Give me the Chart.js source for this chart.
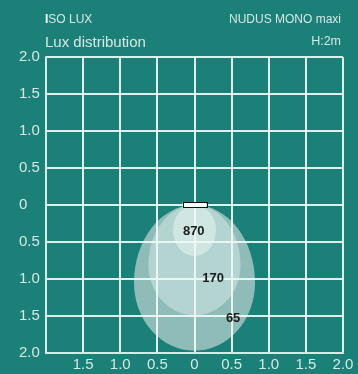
<!DOCTYPE html>
<html><head><meta charset="utf-8">
<script src="https://cdn.jsdelivr.net/npm/chart.js@4"></script>
<style>
html,body{margin:0;padding:0;background:#1b8077;}
#wrap{position:relative;width:358px;height:374px;overflow:hidden;background:#1b8077;font-family:"Liberation Sans",Arial,sans-serif;}
canvas{position:absolute;left:0;top:0;}
.t{position:absolute;line-height:1;white-space:nowrap;color:#d6e8e5;}
</style></head><body>
<div id="wrap">
<canvas id="c" width="358" height="374"></canvas>
<div class="t" style="left:45px;top:13px;font-size:12px"><span style="color:#fff;font-weight:bold">I</span>SO LUX</div>
<div class="t" style="right:17px;top:13px;font-size:12px">NUDUS MONO maxi</div>
<div class="t" style="left:45px;top:34px;font-size:15px">Lux distribution</div>
<div class="t" style="right:17px;top:35px;font-size:12.5px">H:2m</div>
</div>
<script>
// tick labels (absolute distances in m)
const xTickLabels = ['', '1.5', '1.0', '0.5', '0', '0.5', '1.0', '1.5', '2.0'];
const yTickLabels = ['2.0', '1.5', '1.0', '0.5', '0', '0.5', '1.0', '1.5', '2.0'];

// iso-lux contours (m), outer to inner
const isoLabels   = ['65', '170', '870'];
const isoCenterX  = [0, 0, 0];
const isoHalfWidth = [0.815, 0.62, 0.29];
const isoTop      = [0, 0, 0];
const isoWidest   = [-1.05, -0.81, -0.34];
const isoBottom   = [-1.97, -1.49, -0.69];
const isoLabelX   = [0.52, 0.25, -0.01];
const isoLabelY   = [-1.53, -0.99, -0.36];

// luminaire outline (m)
const lampX = [-0.16, 0.16];
const lampY = [0.035, -0.035];

const isoColors = ['#8fbcb8', '#b3d4d0', '#cfe6e2'];
const gridColor = 'rgba(240,248,246,0.92)';
const tickColor = '#d6e8e5';
const FONT = '"Liberation Sans", Arial, sans-serif';

const isoPlugin = {
  id: 'iso',
  beforeDraw(chart) {
    const {ctx, scales: {x, y}} = chart;
    ctx.save();
    for (let i = 0; i < isoLabels.length; i++) {
      const cx = x.getPixelForValue(isoCenterX[i]);
      const rx = Math.abs(x.getPixelForValue(isoCenterX[i] + isoHalfWidth[i]) - cx);
      const cy = y.getPixelForValue(isoWidest[i]);
      const ryTop = Math.abs(cy - y.getPixelForValue(isoTop[i]));
      const ryBot = Math.abs(y.getPixelForValue(isoBottom[i]) - cy);
      ctx.beginPath();
      ctx.ellipse(cx, cy, rx, ryTop, 0, Math.PI, 2 * Math.PI);
      ctx.ellipse(cx, cy, rx, ryBot, 0, 0, Math.PI);
      ctx.closePath();
      ctx.fillStyle = isoColors[i];
      ctx.fill();
    }
    ctx.restore();
  },
  afterDatasetsDraw(chart) {
    const {ctx, scales: {x, y}} = chart;
    ctx.save();
    // lamp
    const lx0 = x.getPixelForValue(lampX[0]), lx1 = x.getPixelForValue(lampX[1]);
    const ly0 = y.getPixelForValue(lampY[0]), ly1 = y.getPixelForValue(lampY[1]);
    ctx.fillStyle = '#ffffff';
    ctx.strokeStyle = '#111';
    ctx.lineWidth = 1;
    ctx.fillRect(lx0, ly0, lx1 - lx0, ly1 - ly0);
    ctx.strokeRect(Math.round(lx0) + 0.5, Math.round(ly0) + 0.5, Math.round(lx1 - lx0), Math.round(ly1 - ly0));
    // labels
    const meta = chart.getDatasetMeta(0);
    ctx.fillStyle = '#1b1b1b';
    ctx.font = 'bold 13px ' + FONT;
    ctx.textAlign = 'center';
    ctx.textBaseline = 'middle';
    meta.data.forEach((pt, i) => {
      ctx.fillText(isoLabels[i], pt.x, pt.y);
    });
    ctx.restore();
  }
};

new Chart(document.getElementById('c'), {
  type: 'scatter',
  data: {
    datasets: [{
      label: 'iso labels',
      data: isoLabelX.map((v, i) => ({x: v, y: isoLabelY[i]})),
      pointRadius: 0,
      pointHoverRadius: 0
    }]
  },
  options: {
    responsive: false,
    animation: false,
    devicePixelRatio: 1,
    events: [],
    layout: {padding: {left: 19, top: 57, right: 15, bottom: 0}},
    plugins: {legend: {display: false}, tooltip: {enabled: false}, title: {display: false}},
    scales: {
      x: {
        type: 'linear', min: -2, max: 2,
        ticks: {
          stepSize: 0.5, autoSkip: false, maxRotation: 0, padding: 3,
          color: tickColor, font: {family: FONT, size: 15},
          callback: (v, i) => xTickLabels[i]
        },
        grid: {color: gridColor, lineWidth: 2, drawTicks: false},
        border: {color: 'rgba(215,232,229,0.85)', width: 2},
        afterFit(s) { s.height = 21; }
      },
      y: {
        type: 'linear', min: -2, max: 2,
        ticks: {
          stepSize: 0.5, autoSkip: false, crossAlign: 'far', padding: 3,
          color: tickColor, font: {family: FONT, size: 15},
          callback: (v, i) => yTickLabels[i]
        },
        grid: {color: gridColor, lineWidth: 2, drawTicks: false},
        border: {color: 'rgba(215,232,229,0.85)', width: 2},
        afterFit(s) { s.width = 27; }
      }
    }
  },
  plugins: [isoPlugin]
});
</script>
</body></html>
